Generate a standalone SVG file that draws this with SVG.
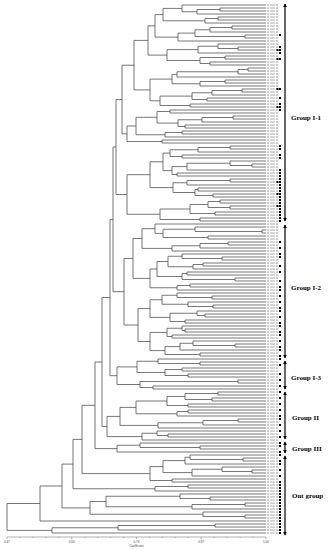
<svg xmlns="http://www.w3.org/2000/svg" width="329" height="550" viewBox="0 0 329 550">
<style>
.t{fill:none;stroke:#4a4a4a;stroke-width:0.75}
.br{stroke:#000;stroke-width:1.2;marker-start:url(#ah);marker-end:url(#ah)}
.gl{font-family:"Liberation Serif","Times New Roman",serif;font-weight:bold;font-size:7px;fill:#000}
.ax{font-family:"Liberation Sans",Arial,sans-serif;font-size:3px;fill:#444}
</style>
<defs>
<marker id="ah" viewBox="0 0 6 6" refX="5" refY="3" markerWidth="3" markerHeight="3" orient="auto-start-reverse"><path d="M0,0L6,3L0,6z" fill="#000"/></marker>
<pattern id="lbl" patternUnits="userSpaceOnUse" x="0" y="0" width="12" height="3"><rect x="0" y="1.3" width="5" height="1.5" fill="#b8b8b8"/><rect x="6" y="1.3" width="5" height="1.5" fill="#c8c8c8"/></pattern>
</defs>
<rect width="329" height="550" fill="#fff"/>
<g id="connectors" class="t">
<path d="M266 8H220V11H266M220 9.5H197V14H266M266 5H182V11.75H197M266 17H218V20H266M218 18.5H205V23H266M182 8.4H163V20.75H205M266 26H232V29H266M232 27.5H210V32H266M266 35H245V38H266M210 29.75H195V36.5H245M195 33.1H178V41H266M163 14.6H155V37.1H178M266 47H238V50H266M266 44H218V48.5H238M218 46.25H198V53H266M266 56H225V59H266M266 62H210V65H266M225 57.5H200V63.5H210M198 49.6H167V60.5H200M155 25.8H148V55.1H167"/>
<path d="M266 68H248V71H266M248 69.5H238V74H266M238 71.75H177V77H266M266 80H225V83H266M225 81.5H200V86H266M177 74.4H172V83.75H200M266 89H242V92H266M242 90.5H212V95H266M266 98H207V101H266M212 92.75H192V99.5H207M266 104H190V107H266M192 96.1H160V105.5H190M172 79.1H150V100.8H160M148 40.4H134V89.9H150"/>
<path d="M266 110H170V113H266M266 116H233V119H266M233 117.5H202V122H266M266 125H185V128H266M202 119.75H178V126.5H185M170 111.5H157V123.1H178M266 131H182V134H266M182 132.5H165V137H266M157 117.3H136V134.75H165M266 140H162V143H266M136 126H127V141.5H162M134 65.2H122V133.8H127"/>
<path d="M266 146H230V149H266M230 147.5H198V152H266M266 155H182V158H266M198 149.75H170V156.5H182M266 164H252V167H266M266 161H230V165.5H252M230 163.25H187V170H266M266 173H177V176H266M187 166.6H172V174.5H177M170 153.1H163V170.6H172M266 179H230V182H266M230 180.5H187V185H266M266 188H198V191H266M266 194H213V197H266M198 189.5H195V195.5H213M187 182.75H173V192.5H195M163 161.8H150V187.6H173M266 200H220V203H266M266 206H230V209H266M220 201.5H208V207.5H230M266 212H215V215H266M208 204.5H190V213.5H215M266 218H200V221H266M190 209H160V219.5H200M150 174.7H127V214.25H160M122 99.5H116V194.5H127"/>
<path d="M266 230H262V233H266M266 227H195V231.5H262M266 236H208V239H266M195 229.25H163V237.5H208M266 224H155V233.4H163M266 242H228V245H266M228 243.5H200V248H266M200 245.75H172V251H266M155 228.7H142V248.4H172M266 257H222V260H266M266 254H182V258.5H222M266 263H203V266H266M203 264.5H193V269H266M182 256.25H168V266.75H193M266 272H187V275H266M266 278H235V281H266M187 273.5H182V279.5H235M168 261.5H157V276.5H182M266 284H190V287H266M190 285.5H177V290H266M157 269H150V287.75H177"/>
<path d="M266 296H212V299H266M266 293H177V297.5H212M266 305H213V308H266M266 302H188V306.5H213M177 295.25H162V304.25H188M266 314H205V317H266M266 311H197V315.5H205M266 320H185V323H266M197 313.25H170V321.5H185M162 299.75H150V317.4H170M266 329H185V332H266M266 326H182V330.5H185M266 335H172V338H266M182 328.25H167V336.5H172M266 344H235V347H266M266 341H193V345.5H235M193 343.25H180V350H266M266 353H200V356H266M180 346.6H165V354.5H200M167 332.4H150V350.6H165M150 308.6H138V341.5H150M142 238.5H133V278.4H150M133 258.45H124V325H138M116 147H113V291.7H124"/>
<path d="M266 362H200V365H266M266 359H158V363.5H200M266 368H182V371H266M266 374H188V377H266M182 369.5H165V375.5H188M158 361.25H137V372.5H165M266 380H238V383H266M266 386H153V389H266M238 381.5H140V387.5H153M137 366.9H117V384.5H140M113 219.4H110V375.7H117"/>
<path d="M266 392H218V395H266M266 398H212V401H266M218 393.5H185V399.5H212M266 404H188V407H266M185 396.5H167V405.5H188M266 410H188V413H266M188 411.5H177V416H266M167 401H136V413.75H177M266 419H238V422H266M238 420.5H203V425H266M203 422.75H158V428H266M136 407.4H120V425.4H158M266 434H168V437H266M266 431H157V435.5H168M157 433.25H142V440H266M120 416.4H107V436.6H142M110 297.5H102V426.5H107"/>
<path d="M266 446H200V449H266M266 443H140V447.5H200M140 445.25H117V452H266M102 362H95V448.6H117"/>
<path d="M266 458H243V461H266M266 455H190V459.5H243M190 457.25H185V464H266M266 470H252V473H266M266 467H222V471.5H252M222 469.25H192V476H266M185 460.6H163V472.6H192M266 479H172V482H266M163 466.6H150V480.5H172M95 405.3H82V473.6H150M266 485H188V488H266M188 486.5H155V491H266M82 439.4H73V488.75H155M266 497H210V500H266M266 494H180V498.5H210M266 503H245V506H266M245 504.5H192V509H266M180 496.25H106V506.75H192M266 515H245V518H266M266 512H203V516.5H245M106 501.5H90V514.25H203M73 464.1H62V507.9H90M62 486H40V521H266M266 524H215V527H266M215 525.5H118V530H266M118 527.75H52V533H266M40 503.5H7V530.4H52"/>
</g>
<rect id="leaf-labels" x="267" y="3.5" width="11" height="531" fill="url(#lbl)"/>
<path id="markers" fill="#000" d="M279 34h2v2h-2zM279 46h2v2h-2zM279 49h2v2h-2zM276.5 49h2v2h-2zM279 52h2v2h-2zM279 58h2v2h-2zM276.5 58h2v2h-2zM279 88h2v2h-2zM276.5 88h2v2h-2zM279 97h2v2h-2zM279 103h2v2h-2zM279 106h2v2h-2zM276.5 106h2v2h-2zM279 109h2v2h-2zM279 145h2v2h-2zM279 148h2v2h-2zM279 154h2v2h-2zM279 157h2v2h-2zM279 169h2v2h-2zM279 172h2v2h-2zM279 175h2v2h-2zM279 178h2v2h-2zM279 181h2v2h-2zM276.5 181h2v2h-2zM279 184h2v2h-2zM279 187h2v2h-2zM279 190h2v2h-2zM279 193h2v2h-2zM276.5 193h2v2h-2zM279 196h2v2h-2zM279 199h2v2h-2zM279 202h2v2h-2zM279 205h2v2h-2zM276.5 205h2v2h-2zM279 208h2v2h-2zM279 211h2v2h-2zM279 214h2v2h-2zM279 217h2v2h-2zM279 220h2v2h-2zM279 241h2v2h-2zM279 247h2v2h-2zM279 253h2v2h-2zM279 256h2v2h-2zM279 265h2v2h-2zM279 271h2v2h-2zM279 280h2v2h-2zM279 286h2v2h-2zM279 289h2v2h-2zM279 295h2v2h-2zM279 301h2v2h-2zM279 307h2v2h-2zM279 310h2v2h-2zM279 316h2v2h-2zM279 322h2v2h-2zM279 325h2v2h-2zM279 331h2v2h-2zM279 334h2v2h-2zM279 340h2v2h-2zM279 346h2v2h-2zM279 349h2v2h-2zM279 355h2v2h-2zM279 358h2v2h-2zM279 364h2v2h-2zM279 373h2v2h-2zM279 379h2v2h-2zM279 385h2v2h-2zM279 391h2v2h-2zM279 397h2v2h-2zM279 403h2v2h-2zM279 409h2v2h-2zM279 415h2v2h-2zM279 418h2v2h-2zM279 424h2v2h-2zM279 430h2v2h-2zM279 436h2v2h-2zM279 442h2v2h-2zM279 445h2v2h-2zM279 451h2v2h-2zM279 454h2v2h-2zM279 460h2v2h-2zM279 463h2v2h-2zM279 469h2v2h-2zM279 475h2v2h-2zM279 481h2v2h-2zM279 484h2v2h-2zM279 487h2v2h-2zM279 490h2v2h-2zM279 493h2v2h-2zM279 496h2v2h-2zM279 499h2v2h-2zM279 502h2v2h-2zM279 505h2v2h-2zM279 508h2v2h-2zM279 511h2v2h-2zM279 514h2v2h-2zM279 517h2v2h-2zM279 520h2v2h-2zM279 523h2v2h-2zM279 526h2v2h-2zM279 529h2v2h-2zM279 532h2v2h-2z"/>
<g id="group-I-1"><line class="br" x1="285" y1="4" x2="285" y2="221"/><text class="gl" x="291" y="120">Group I-1</text></g>
<g id="group-I-2"><line class="br" x1="285" y1="225" x2="285" y2="358"/><text class="gl" x="291" y="289.5">Group I-2</text></g>
<g id="group-I-3"><line class="br" x1="285" y1="361" x2="285" y2="389"/><text class="gl" x="291" y="379.5">Group I-3</text></g>
<g id="group-II"><line class="br" x1="285" y1="392" x2="285" y2="439"/><text class="gl" x="292" y="419.5">Group II</text></g>
<g id="group-III"><line class="br" x1="285" y1="442" x2="285" y2="453"/><text class="gl" x="292" y="450.5">Group III</text></g>
<g id="group-out"><line class="br" x1="285" y1="456" x2="285" y2="535"/><text class="gl" x="292" y="497.5">Out group</text></g>
<g id="axis">
<path fill="none" stroke="#666" stroke-width="0.5" d="M7 537H266M7 537v2M19.95 537v1M32.9 537v1M45.85 537v1M58.8 537v1M71.75 537v2M84.7 537v1M97.65 537v1M110.6 537v1M123.55 537v1M136.5 537v2M149.45 537v1M162.4 537v1M175.35 537v1M188.3 537v1M201.25 537v2M214.2 537v1M227.15 537v1M240.1 537v1M253.05 537v1M266 537v2"/>
<g class="ax" text-anchor="middle"><text x="7" y="542.5">0.47</text><text x="71.75" y="542.5">0.60</text><text x="136.5" y="542.5">0.74</text><text x="201.25" y="542.5">0.87</text><text x="266" y="542.5">1.00</text><text x="136.5" y="546.5">Coefficient</text></g>
</g>
</svg>
